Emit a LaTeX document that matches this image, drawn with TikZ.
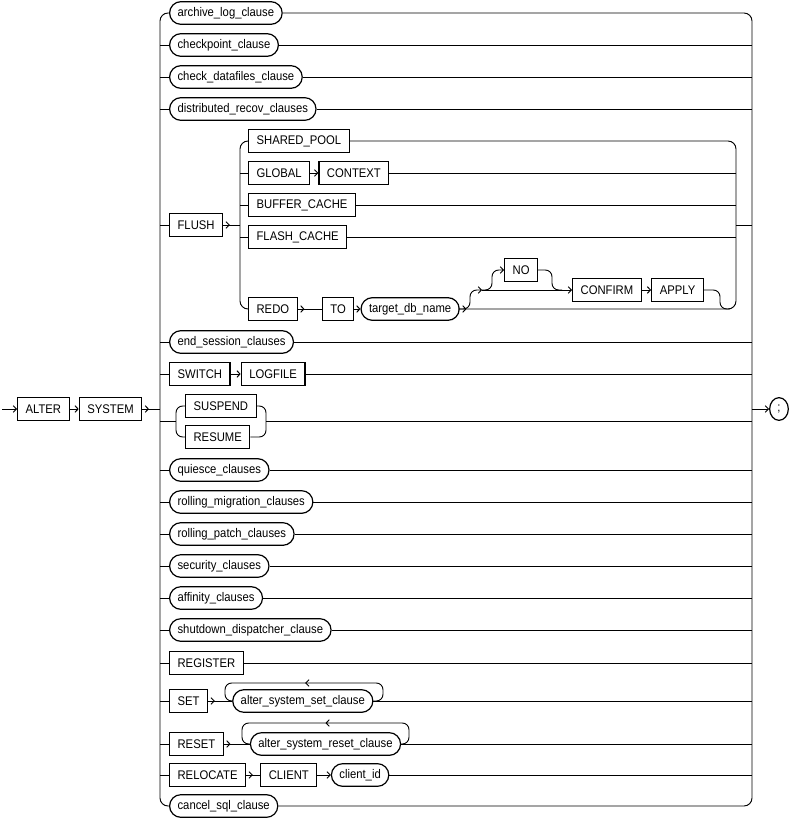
\documentclass[tikz,border=0pt]{standalone}
\usepackage{fontspec}
\setmainfont{Liberation Sans}[FakeStretch=0.9]
\usetikzlibrary{positioning,arrows.meta,decorations.markings,shapes.geometric}

\tikzset{
  kw/.style={draw, line width=0.9pt, minimum height=17pt, inner xsep=6pt, inner ysep=0pt,
    font=\fontsize{9.4}{11}\selectfont},
  nt/.style={kw, rounded corners=8.5pt},
  ln/.style={line width=0.7pt},
  pf/.style={ln, -{Straight Barb[length=2.4pt,width=5pt]}},
  pfs/.style={ln, postaction={decorate}, decoration={markings,
    mark=at position 5pt with {\arrow{Straight Barb[length=2.4pt,width=5pt]}}}},
  pfm/.style={ln, postaction={decorate}, decoration={markings,
    mark=at position 0.5 with {\arrow{Straight Barb[length=2.4pt,width=5pt]}}}},
}

\begin{document}
\begin{tikzpicture}[x=0.75pt, y=-0.75pt, node distance=6.75pt]
  \useasboundingbox (0,0) rectangle (791,820);
  \coordinate (L) at (160,0);
  \coordinate (R) at (752,0);
  \coordinate (IL) at (240,0);
  \coordinate (IR) at (736,0);

  % ALTER SYSTEM
  \coordinate (go) at (2,409);
  \node[kw, anchor=west] (alter) at (17,409) {ALTER};
  \node[kw, right=of alter] (system) {SYSTEM};
  \node[ellipse, draw, line width=0.9pt, minimum width=14pt, minimum height=17pt, inner sep=0pt,
    font=\fontsize{9.4}{11}\selectfont] (semi) at (779,409) {;};

  % branches
  \node[nt, anchor=west] (arch) at (169,13) {archive\_log\_clause};
  \node[nt, anchor=west] (ckpt) at (169,45) {checkpoint\_clause};
  \node[nt, anchor=west] (ckdf) at (169,77) {check\_datafiles\_clause};
  \node[nt, anchor=west] (drec) at (169,109) {distributed\_recov\_clauses};
  \node[kw, anchor=west] (flush) at (169,225) {FLUSH};
  \node[nt, anchor=west] (endss) at (169,342) {end\_session\_clauses};
  \node[kw, anchor=west] (switch) at (169,374) {SWITCH};
  \node[kw, right=7.5pt of switch] (logf) {LOGFILE};
  \node[kw, anchor=west] (susp) at (185,406) {SUSPEND};
  \node[kw, anchor=west] (resume) at (185,437) {RESUME};
  \node[nt, anchor=west] (quies) at (169,470) {quiesce\_clauses};
  \node[nt, anchor=west] (rmig) at (169,502) {rolling\_migration\_clauses};
  \node[nt, anchor=west] (rpatch) at (169,534) {rolling\_patch\_clauses};
  \node[nt, anchor=west] (secur) at (169,566) {security\_clauses};
  \node[nt, anchor=west] (affin) at (169,598) {affinity\_clauses};
  \node[nt, anchor=west] (shutd) at (169,630) {shutdown\_dispatcher\_clause};
  \node[kw, anchor=west] (regis) at (169,663) {REGISTER};
  \node[kw, anchor=west] (set) at (169,701) {SET};
  \node[nt, right=18pt of set] (setcl) {alter\_system\_set\_clause};
  \node[kw, anchor=west] (reset) at (169,744) {RESET};
  \node[nt, right=19.5pt of reset] (resetcl) {alter\_system\_reset\_clause};
  \node[kw, anchor=west] (reloc) at (169,775) {RELOCATE};
  \node[kw, right=10.5pt of reloc] (client) {CLIENT};
  \node[nt, right=10pt of client] (cid) {client\_id};
  \node[nt, anchor=west] (cancel) at (169,806) {cancel\_sql\_clause};

  % FLUSH choices
  \node[kw, anchor=west] (spool) at (248,141) {SHARED\_POOL};
  \node[kw, anchor=west] (glob) at (248,173) {GLOBAL};
  \node[kw, right=6pt of glob] (ctx) {CONTEXT};
  \node[kw, anchor=west] (bcache) at (248,205) {BUFFER\_CACHE};
  \node[kw, anchor=west] (fcache) at (248,237) {FLASH\_CACHE};
  \node[kw, anchor=west] (redo) at (248,309) {REDO};
  \node[kw, right=18pt of redo] (to) {TO};
  \node[nt, right=4.5pt of to] (tdb) {target\_db\_name};
  \node[kw, anchor=west] (no) at (504,270) {NO};
  \node[kw, anchor=west] (confirm) at (572,290) {CONFIRM};
  \node[kw, right=7pt of confirm] (apply) {APPLY};

  % main lines
  \draw[pf] (go) -- (alter);
  \draw[pf] (alter) -- (system);
  \draw[pfs] (system) -- (L |- system);
  \draw[ln, rounded corners=6pt] (arch.west) -| (L |- semi) |- (cancel.west);
  \draw[ln, rounded corners=6pt] (arch.east) -| (R |- semi) |- (cancel.east);
  \draw[pf] (R |- semi) -- (semi);

  % row entries
  \draw[ln] (L |- ckpt) -- (ckpt.west) (L |- ckdf) -- (ckdf.west) (L |- drec) -- (drec.west)
    (L |- flush) -- (flush.west) (L |- endss) -- (endss.west) (L |- switch) -- (switch.west)
    (L |- quies) -- (quies.west) (L |- rmig) -- (rmig.west) (L |- rpatch) -- (rpatch.west)
    (L |- secur) -- (secur.west) (L |- affin) -- (affin.west) (L |- shutd) -- (shutd.west)
    (L |- regis) -- (regis.west) (L |- set) -- (set.west) (L |- reset) -- (reset.west)
    (L |- reloc) -- (reloc.west);

  % row exits
  \draw[ln] (ckpt.east) -- (R |- ckpt) (ckdf.east) -- (R |- ckdf) (drec.east) -- (R |- drec)
    (IR |- flush) -- (R |- flush) (endss.east) -- (R |- endss) (logf.east) -- (R |- logf)
    (quies.east) -- (R |- quies) (rmig.east) -- (R |- rmig) (rpatch.east) -- (R |- rpatch)
    (secur.east) -- (R |- secur) (affin.east) -- (R |- affin) (shutd.east) -- (R |- shutd)
    (regis.east) -- (R |- regis) (setcl.east) -- (R |- setcl) (resetcl.east) -- (R |- resetcl)
    (cid.east) -- (R |- cid);
  \draw[pf] (switch) -- (logf);

  % SUSPEND / RESUME
  \coordinate (sl) at (176,421);
  \coordinate (sr) at (266,421);
  \draw[ln] (L |- sl) -- (sl);
  \draw[ln, rounded corners=5pt] (susp.west) -| (sl) |- (resume.west);
  \draw[ln, rounded corners=5pt] (susp.east) -| (sr) |- (resume.east);
  \draw[ln] (sr) -- (R |- sr);

  % SET / RESET loops
  \coordinate (st1) at (383,683);
  \coordinate (st2) at (225,683);
  \draw[pfs] (set) -- (setcl);
  \draw[pfm, rounded corners=5pt] (setcl.east) -| (st1) -- (st2) |- (setcl.west);
  \coordinate (rt1) at (409,723);
  \coordinate (rt2) at (242,723);
  \draw[pfs] (reset) -- (resetcl);
  \draw[pfm, rounded corners=5pt] (resetcl.east) -| (rt1) -- (rt2) |- (resetcl.west);

  % RELOCATE
  \draw[pfs] (reloc) -- (client);
  \draw[pf] (client) -- (cid);

  % FLUSH
  \draw[pfs] (flush) -- (IL |- flush);
  \draw[ln, rounded corners=6pt] (spool.west) -| (IL |- flush) |- (redo.west);
  \draw[ln] (IL |- glob) -- (glob.west) (IL |- bcache) -- (bcache.west) (IL |- fcache) -- (fcache.west);
  \draw[pf] (glob) -- (ctx);
  \draw[pfs, rounded corners=6pt] (tdb.east) -| (IR |- flush) |- (spool.east);
  \draw[ln] (ctx.east) -- (IR |- ctx) (bcache.east) -- (IR |- bcache) (fcache.east) -- (IR |- fcache);
  \draw[pfs] (redo) -- (to);
  \draw[pf] (to) -- (tdb);

  % NO CONFIRM APPLY
  \coordinate (ob1) at (458,309);
  \coordinate (ob2) at (482,290);
  \coordinate (nj) at (562,290);
  \coordinate (ob3) at (730,309);
  \draw[pf, rounded corners=5pt] (ob1) -| (470,290) -- (ob2);
  \draw[pf] (ob2) -- (confirm);
  \draw[pf, rounded corners=5pt] (ob2) -| (492,270) -- (no.west);
  \draw[ln, rounded corners=5pt] (no.east) -| (552,290) -- (nj);
  \draw[pf] (confirm) -- (apply);
  \draw[ln, rounded corners=5pt] (apply.east) -| (720,309) -- (ob3);
\end{tikzpicture}
\end{document}
